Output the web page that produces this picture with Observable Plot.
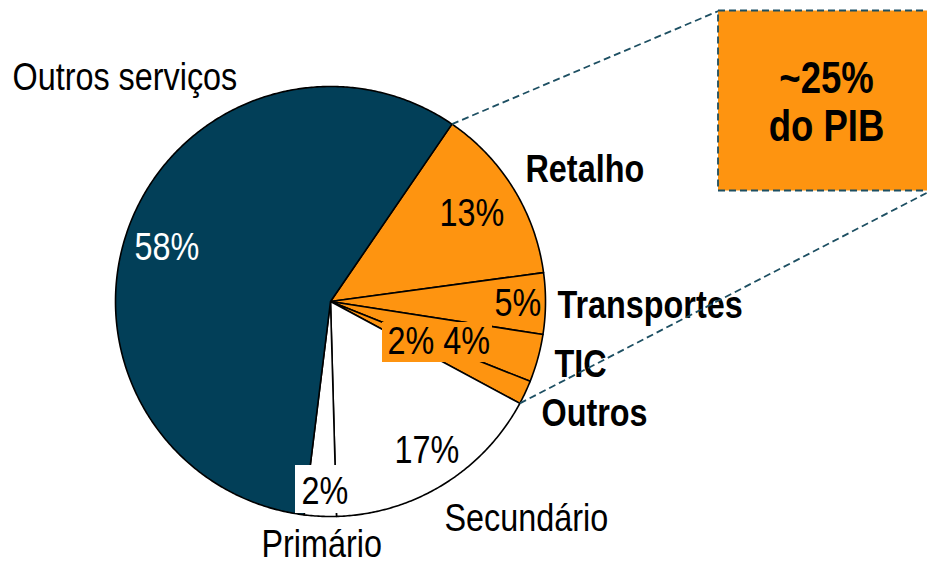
<!DOCTYPE html>
<html><head><meta charset="utf-8">
<script src="https://cdn.jsdelivr.net/npm/d3@7"></script>
<script src="https://cdn.jsdelivr.net/npm/@observablehq/plot@0.6"></script>
<style>
html,body{margin:0;padding:0;background:#fff;overflow:hidden}
</style></head><body><div id="chart"></div>
<script>
// ---- data ----
const categories = ["Retalho", "Transportes", "TIC", "Outros", "Secundário", "Primário", "Outros serviços"];
const shares = [13.3, 4.6, 3.6, 1.8, 16.7, 2.4, 57.6];          // estimated slice sizes (%)
const shareLabels = ["13%", "5%", "4%", "2%", "17%", "2%", "58%"]; // printed labels
const calloutLines = ["~25%", "do PIB"];

// ---- styles / layout ----
const ORANGE = "#fe9410", NAVY = "#023f58", DASH = "#1d4f62";
const sliceColors = [ORANGE, ORANGE, ORANGE, ORANGE, "#ffffff", "#ffffff", NAVY];
const W = 927, H = 564;
const CX = 330, CY = 301, R = 215, START_DEG = 34.4;
const FONT = "'Liberation Sans', Arial, sans-serif";
const FS = 39;
const NARROW = 0.83; // horizontal condensing of the text (narrow face look)

// pie geometry from the data
const pie = d3.pie().sort(null).value(d => d)
  .startAngle(START_DEG * Math.PI / 180)
  .endAngle(START_DEG * Math.PI / 180 + 2 * Math.PI)(shares);
const pt = (a, r) => ({x: CX + r * Math.sin(a), y: CY - r * Math.cos(a)});

const sliceMarks = pie.map((p, i) => {
  const pts = [pt(0, 0)];
  const n = Math.max(4, Math.ceil((p.endAngle - p.startAngle) / (Math.PI / 360)));
  for (let k = 0; k <= n; k++) pts.push(pt(p.startAngle + (p.endAngle - p.startAngle) * k / n, R));
  pts.push(pt(0, 0));
  return Plot.line(pts, {x: "x", y: "y", fill: sliceColors[i], stroke: "#000", strokeWidth: 1.6, strokeLinejoin: "round", curve: "linear"});
});

// label layout (left x, baseline y)
const nameLayout = [
  {text: categories[0], x: 525, y: 181, bold: true},
  {text: categories[1], x: 557, y: 317, bold: true},
  {text: categories[2], x: 554, y: 376, bold: true},
  {text: categories[3], x: 541, y: 425, bold: true},
  {text: categories[4], x: 444, y: 530, bold: false},
  {text: categories[5], x: 261, y: 556, bold: false},
  {text: categories[6], x: 12, y: 89, bold: false}
];
const pctLayout = [
  {text: shareLabels[0], x: 439, y: 225, fill: "#000"},
  {text: shareLabels[1], x: 494, y: 315, fill: "#000"},
  {text: shareLabels[3] + " " + shareLabels[2], x: 387, y: 353, fill: "#000"},
  {text: shareLabels[4], x: 394, y: 462, fill: "#000"},
  {text: shareLabels[5], x: 301, y: 503, fill: "#000"},
  {text: shareLabels[6], x: 134, y: 259, fill: "#fff"}
];
const labelBoxes = [
  {x1: 382, x2: 492, y1: 322, y2: 362, fill: ORANGE},
  {x1: 295, x2: 342, y1: 465, y2: 513, fill: "#ffffff"}
];
const callout = {x1: 718, x2: 945, y1: 10.5, y2: 190.5};
const outA = pie[0].startAngle;            // start edge of the highlighted group
const outB = pie[3].endAngle;              // end edge of the highlighted group
const p1 = pt(outA, R), p2 = pt(outB, R);
const endB = {x: 927, y: 192};
const links = [
  {x1: p1.x, y1: p1.y, x2: callout.x1, y2: callout.y1},
  {x1: p2.x, y1: p2.y, x2: endB.x + (endB.x - p2.x) * 0.05, y2: endB.y + (endB.y - p2.y) * 0.05}
];

const chart = Plot.plot({
  width: W, height: H,
  margin: 0,
  x: {type: "linear", domain: [0, W], range: [0, W], axis: null},
  y: {type: "linear", domain: [0, H], range: [0, H], axis: null},
  style: {background: "#fff"},
  marks: [
    ...sliceMarks,
    Plot.rect(labelBoxes, {x1: "x1", x2: "x2", y1: "y1", y2: "y2", fill: d => d.fill, inset: 0}),
    Plot.text(pctLayout, {x: "x", y: "y", text: "text", fill: d => d.fill, textAnchor: "start", lineAnchor: "bottom",
      fontSize: FS, fontFamily: FONT}),
    Plot.text(nameLayout.filter(d => d.bold), {x: "x", y: "y", text: "text", fill: "#000", textAnchor: "start", lineAnchor: "bottom",
      fontSize: FS, fontFamily: FONT, fontWeight: "bold"}),
    Plot.text(nameLayout.filter(d => !d.bold), {x: "x", y: "y", text: "text", fill: "#000", textAnchor: "start", lineAnchor: "bottom",
      fontSize: FS, fontFamily: FONT}),
    Plot.link(links, {x1: "x1", y1: "y1", x2: "x2", y2: "y2", stroke: DASH, strokeWidth: 1.8, strokeDasharray: "7,4"}),
    Plot.rect([callout], {x1: "x1", x2: "x2", y1: "y1", y2: "y2", fill: ORANGE, stroke: DASH, strokeWidth: 1.8, strokeDasharray: "7,4", inset: 0}),
    Plot.text(calloutLines, {x: () => 826, y: (d, i) => 92 + i * 48, text: d => d, fill: "#000", textAnchor: "middle", lineAnchor: "bottom",
      fontSize: 44, fontWeight: "bold", fontFamily: FONT})
  ]
});

// condense all texts horizontally around their anchor
d3.select(chart).selectAll("text").each(function() {
  const el = this;
  if (el.hasAttribute("x") || el.hasAttribute("y")) {
    const x = +el.getAttribute("x") || 0, y = +el.getAttribute("y") || 0;
    el.removeAttribute("x"); el.removeAttribute("y");
    const t = el.getAttribute("transform") || "";
    el.setAttribute("transform", `${t} translate(${x},${y}) scale(${NARROW},1)`);
  } else {
    const t = el.getAttribute("transform") || "";
    el.setAttribute("transform", `${t} scale(${NARROW},1)`);
  }
});
document.getElementById("chart").appendChild(chart);
</script></body></html>
